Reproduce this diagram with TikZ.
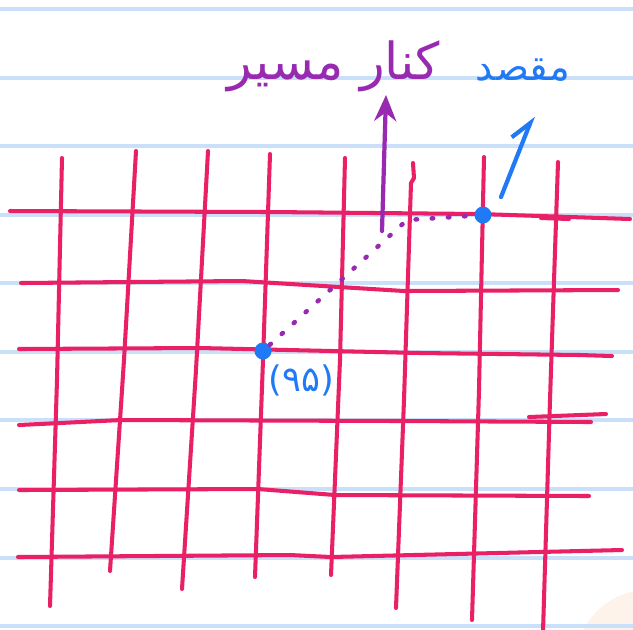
\documentclass[tikz,border=0pt]{standalone}
\usepackage{fontspec}
\newfontfamily\arabicfont[Script=Arabic]{DejaVu Sans}
\TeXXeTstate=1
\usepackage{tikz}
\usetikzlibrary{arrows.meta,positioning}
\definecolor{ruleblue}{RGB}{202,224,250}
\definecolor{gridred}{RGB}{234,32,102}
\definecolor{pointblue}{RGB}{32,122,246}
\definecolor{routepurple}{RGB}{152,42,178}
\definecolor{peach}{RGB}{253,243,234}

\begin{document}
\begin{tikzpicture}[x=0.01cm,y=-0.01cm]
  \tikzstyle{rule}=[draw=ruleblue,line width=1pt]
  \tikzstyle{gridline}=[draw=gridred,line width=1.15pt,line cap=round,line join=round]
  \tikzstyle{spot}=[circle,fill=pointblue,inner sep=0pt,minimum size=0.17cm]
  \tikzstyle{route}=[draw=routepurple,line width=1.3pt,line cap=round,dash pattern=on 0.4pt off 4.2pt]
  \tikzstyle{pointer}=[line width=1.2pt,line cap=round]
  \tikzstyle{scribble}=[inner sep=0pt,font=\arabicfont]

  \clip (0,0) rectangle (633,629);
  \fill[white] (0,0) rectangle (633,629);
  \fill[peach] (648,662) circle (72);

  % notebook rules
  \draw[rule] (0,9) -- (633,9);
  \draw[rule] (0,78) -- (633,78);
  \draw[rule] (0,146) -- (633,146);
  \draw[rule] (0,215) -- (633,215);
  \draw[rule] (0,283) -- (633,283);
  \draw[rule] (0,352) -- (633,352);
  \draw[rule] (0,420) -- (633,420);
  \draw[rule] (0,489) -- (633,489);
  \draw[rule] (0,558) -- (633,558);
  \draw[rule] (0,626) -- (633,626);

  % hand drawn grid, rows
  \draw[gridline] (10,211) -- (270,212) -- (480,214) -- (630,219);
  \draw[gridline] (541,218) -- (569,219);
  \draw[gridline] (21,283) -- (242,281) -- (404,291) -- (618,290);
  \draw[gridline] (19,349) -- (200,348) -- (420,353) -- (580,355) -- (612,356);
  \draw[gridline] (19,425) -- (121,420) -- (400,421) -- (591,422);
  \draw[gridline] (529,417) -- (606,414);
  \draw[gridline] (19,490) -- (258,489) -- (335,495) -- (589,496);
  \draw[gridline] (18,557) -- (290,555) -- (331,557) -- (622,550);
  % columns
  \draw[gridline] (62,158) -- (57,380) -- (50,606);
  \draw[gridline] (136,151) -- (124,360) -- (110,571);
  \draw[gridline] (208,151) -- (196,370) -- (182,589);
  \draw[gridline] (270,154) -- (263,360) -- (255,577);
  \draw[gridline] (345,158) -- (340,360) -- (331,575);
  \draw[gridline] (413,163) -- (414,178) -- (411,183) -- (404,400) -- (396,608);
  \draw[gridline] (484,157) -- (479,390) -- (472,620);
  \draw[gridline] (558,162) -- (550,400) -- (543,632);

  % points and labels
  \node[spot] (start) at (263,351) {};
  \node[spot] (goal) at (483,215) {};
  \node[scribble,text=pointblue,font=\arabicfont\fontsize{10}{12}\selectfont,anchor=north west] (startlabel) at (268,364) {(۹۵)};
  \node[scribble,text=pointblue,font=\arabicfont\fontsize{11}{13}\selectfont] (goallabel) at (523,70) {\beginR مقصد\endR};
  \node[scribble,text=routepurple,font=\arabicfont\fontsize{14.5}{17}\selectfont] (routelabel) at (334,66) {\beginR کنار مسیر\endR};

  \coordinate (bend) at (407,220);
  \coordinate (routefoot) at (382,231);
  \coordinate (routetip) at (386,95);
  \coordinate (goalfoot) at (501,197);
  \coordinate (goaltip) at (533,116);

  % route and pointers
  \draw[route] (start) -- (bend) -- (goal);
  \draw[pointer,routepurple,-{Stealth[length=2.6mm,width=2.2mm]}] (routefoot) -- (routetip);
  \draw[pointer,pointblue,-{Straight Barb[left,length=2mm,width=2.4mm]}] (goalfoot) -- (goaltip);
\end{tikzpicture}
\end{document}
